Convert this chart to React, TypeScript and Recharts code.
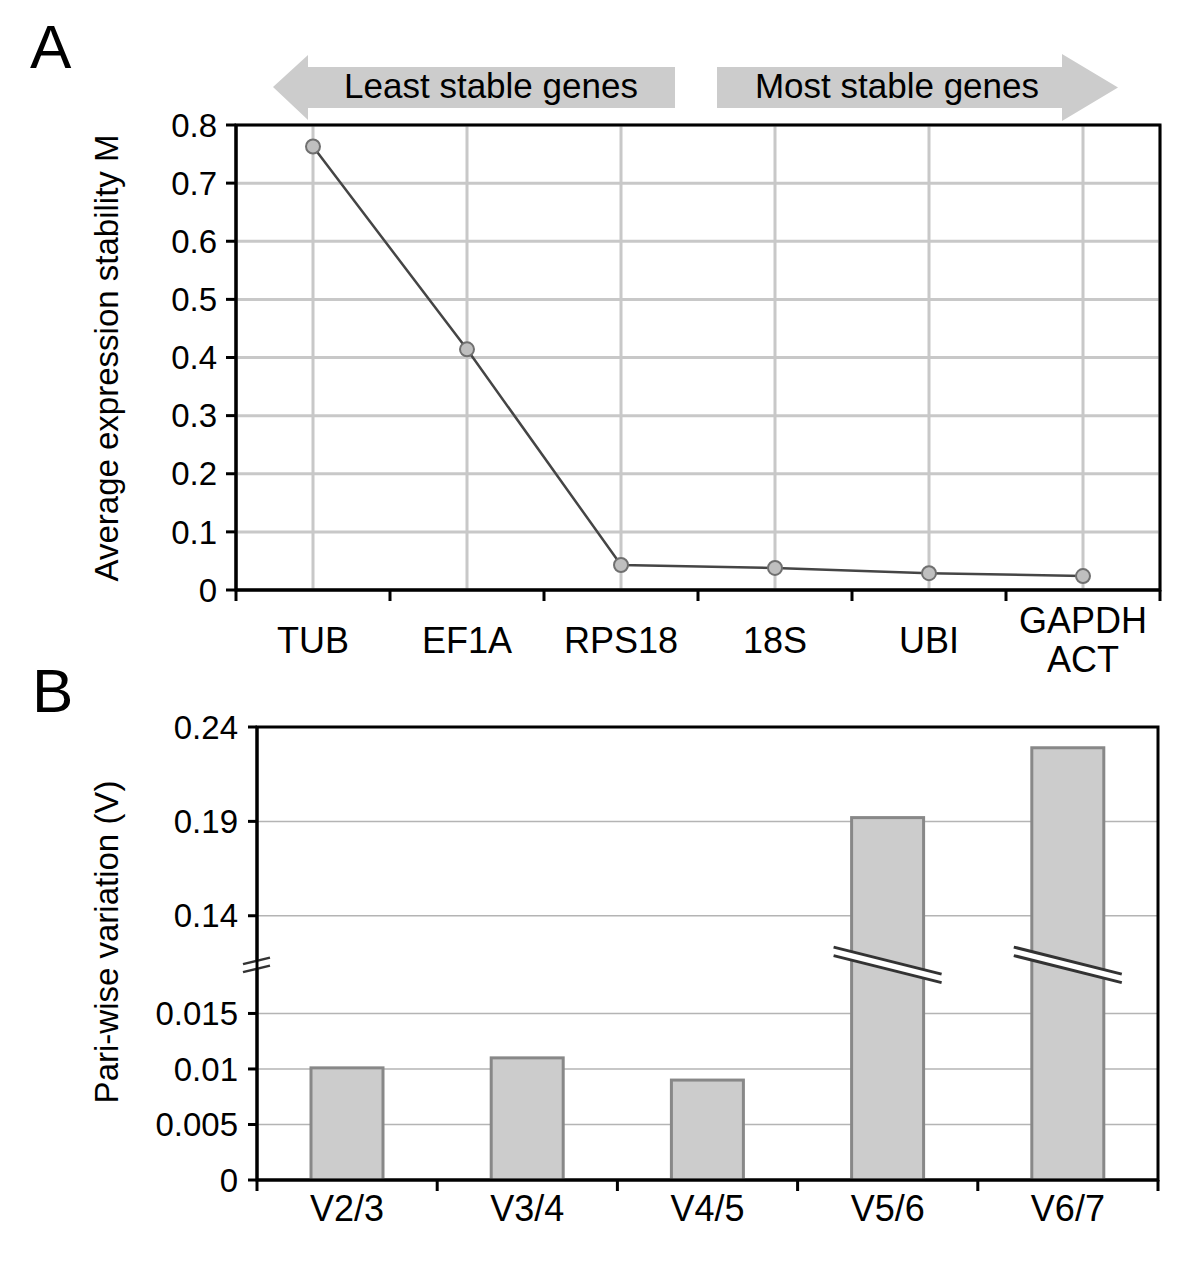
import React from "react";
import {
  LineChart,
  Line,
  BarChart,
  Bar,
  XAxis,
  YAxis,
  CartesianGrid,
  ReferenceArea,
  ReferenceLine,
} from "recharts";

const FONT = "'Liberation Sans', Arial, Helvetica, sans-serif";

// panel A: geNorm stability
const genes = ["TUB", "EF1A", "RPS18", "18S", "UBI", "GAPDH ACT"];
const stabilityM = [0.763, 0.414, 0.043, 0.038, 0.029, 0.024];
const stabilityTicks = [0, 0.1, 0.2, 0.3, 0.4, 0.5, 0.6, 0.7, 0.8];

// panel B: pairwise variation
const pairs = ["V2/3", "V3/4", "V4/5", "V5/6", "V6/7"];
const pairwiseV = [0.0101, 0.011, 0.009, 0.192, 0.229];
const lowTicks = [0, 0.005, 0.01, 0.015];
const highTicks = [0.14, 0.19, 0.24];

// broken axis: lower part 0..0.015, upper part 0.14..0.24
const LOW_MAX = 0.015;
const HIGH_MIN = 0.14;
const LOW_UNIT = 0.005;
const GAP = 1.76;
const HIGH_UNIT = 0.05 / 1.7;
const toAxis = (v: number) =>
  v <= LOW_MAX ? v / LOW_UNIT : LOW_MAX / LOW_UNIT + GAP + (v - HIGH_MIN) / HIGH_UNIT;
const BREAK_U = (toAxis(LOW_MAX) + toAxis(HIGH_MIN)) / 2;

const allTicksB = [...lowTicks, ...highTicks];

const dataA = genes.map((gene, i) => ({ gene, m: stabilityM[i] }));
const dataB = pairs.map((pair, i) => ({ pair, v: pairwiseV[i], axisV: toAxis(pairwiseV[i]) }));

// layout
const W = 1200;
const A_H = 700;
const A_LEFT = 236;
const A_RIGHT = 1160;
const A_TOP = 125;
const A_BOTTOM = 590;
const B_H = 571;
const B_TOP_OFF = 700;
const B_LEFT = 257;
const B_RIGHT = 1158;
const B_TOP = 727;
const B_BOTTOM = 1180;
const Y_AXIS_W = 90;

const tickStyle = { fill: "#000", fontSize: 33, fontFamily: FONT };

function GeneTick(props: any) {
  const { x, y, payload, index } = props;
  const bw = (A_RIGHT - A_LEFT) / genes.length;
  const lines = String(payload.value).split(" ");
  const first = lines.length > 1 ? 43 : 63;
  return (
    <g>
      <line x1={x - bw / 2} x2={x - bw / 2} y1={y} y2={y + 11} stroke="#000" strokeWidth={3} />
      {index === genes.length - 1 && (
        <line x1={x + bw / 2} x2={x + bw / 2} y1={y} y2={y + 11} stroke="#000" strokeWidth={3} />
      )}
      {lines.map((l, i) => (
        <text key={l} x={x} y={y + first + i * 39} textAnchor="middle" fontSize={36} fontFamily={FONT} fill="#000">
          {l}
        </text>
      ))}
    </g>
  );
}

function PairTick(props: any) {
  const { x, y, payload, index } = props;
  const bw = (B_RIGHT - B_LEFT) / pairs.length;
  return (
    <g>
      <line x1={x - bw / 2} x2={x - bw / 2} y1={y} y2={y + 11} stroke="#000" strokeWidth={3} />
      {index === pairs.length - 1 && (
        <line x1={x + bw / 2} x2={x + bw / 2} y1={y} y2={y + 11} stroke="#000" strokeWidth={3} />
      )}
      <text x={x} y={y + 41} textAnchor="middle" fontSize={36} fontFamily={FONT} fill="#000">
        {payload.value}
      </text>
    </g>
  );
}

function BrokenBar(props: any) {
  const { x, y, width, height, payload } = props;
  const rect = <rect x={x} y={y} width={width} height={height} fill="#cccccc" stroke="#888888" strokeWidth={3} />;
  if (payload.v <= LOW_MAX) return rect;
  const by = y + height - (height * BREAK_U) / payload.axisV;
  const cx = x + width / 2;
  const half = 54;
  const dy = 13.5;
  const y1 = by - 4;
  const y2 = by + 4.5;
  return (
    <g>
      {rect}
      <polygon
        points={`${cx - half},${y1 - dy} ${cx + half},${y1 + dy} ${cx + half},${y2 + dy} ${cx - half},${y2 - dy}`}
        fill="#fff"
      />
      <line x1={cx - half} y1={y1 - dy} x2={cx + half} y2={y1 + dy} stroke="#333" strokeWidth={3} />
      <line x1={cx - half} y1={y2 - dy} x2={cx + half} y2={y2 + dy} stroke="#333" strokeWidth={3} />
    </g>
  );
}

function AxisBreak(props: any) {
  const { x1, y1 } = props;
  const ya = y1 - 4;
  const yb = y1 + 4;
  return (
    <g>
      <polygon points={`${x1 - 14},${ya + 3.5} ${x1 + 13},${ya - 3} ${x1 + 13},${yb - 3} ${x1 - 14},${yb + 3.5}`} fill="#fff" />
      <line x1={x1 - 14} y1={ya + 3.5} x2={x1 + 13} y2={ya - 3} stroke="#333" strokeWidth={2.5} />
      <line x1={x1 - 14} y1={yb + 3.5} x2={x1 + 13} y2={yb - 3} stroke="#333" strokeWidth={2.5} />
    </g>
  );
}

const labelB = (u: number) => {
  let best = allTicksB[0];
  allTicksB.forEach(t => {
    if (Math.abs(toAxis(t) - u) < Math.abs(toAxis(best) - u)) best = t;
  });
  return String(best);
};

export default function App() {
  return (
    <div style={{ position: "absolute", left: 0, top: 0, width: W, height: 1271, background: "#fff" }}>
      <div style={{ position: "absolute", left: 0, top: 0 }}>
        <LineChart
          width={W}
          height={A_H}
          data={dataA}
          margin={{ top: A_TOP, right: W - A_RIGHT, left: A_LEFT - Y_AXIS_W, bottom: A_H - A_BOTTOM - 90 }}
        >
          <CartesianGrid stroke="#c8c8c8" strokeWidth={3} />
          <XAxis
            dataKey="gene"
            scale="band"
            interval={0}
            height={90}
            tick={<GeneTick />}
            tickLine={false}
            tickSize={0}
            tickMargin={0}
            axisLine={{ stroke: "#000", strokeWidth: 3 }}
          />
          <YAxis
            width={Y_AXIS_W}
            domain={[0, 0.8]}
            ticks={stabilityTicks}
            interval={0}
            tick={tickStyle}
            tickSize={10}
            tickMargin={9}
            tickLine={{ stroke: "#000", strokeWidth: 3 }}
            axisLine={{ stroke: "#000", strokeWidth: 3 }}
          />
          <ReferenceArea y1={0} y2={0.8} fill="none" stroke="#000" strokeWidth={3} fillOpacity={0} />
          <Line
            dataKey="m"
            stroke="#454545"
            strokeWidth={2.5}
            dot={{ r: 7, fill: "#bfbfbf", stroke: "#707070", strokeWidth: 2 }}
            isAnimationActive={false}
          />
        </LineChart>
      </div>

      <div style={{ position: "absolute", left: 0, top: B_TOP_OFF }}>
        <BarChart
          width={W}
          height={B_H}
          data={dataB}
          margin={{
            top: B_TOP - B_TOP_OFF,
            right: W - B_RIGHT,
            left: B_LEFT - Y_AXIS_W,
            bottom: B_H - (B_BOTTOM - B_TOP_OFF) - 60,
          }}
        >
          <CartesianGrid stroke="#b4b4b4" strokeWidth={1.5} vertical={false} />
          <XAxis
            dataKey="pair"
            interval={0}
            height={60}
            tick={<PairTick />}
            tickLine={false}
            tickSize={0}
            tickMargin={0}
            axisLine={{ stroke: "#000", strokeWidth: 3 }}
          />
          <YAxis
            width={Y_AXIS_W}
            domain={[0, toAxis(0.24)]}
            ticks={allTicksB.map(toAxis)}
            interval={0}
            tickFormatter={labelB}
            tick={tickStyle}
            tickSize={9}
            tickMargin={10}
            tickLine={{ stroke: "#000", strokeWidth: 3 }}
            axisLine={{ stroke: "#000", strokeWidth: 3 }}
          />
          <ReferenceArea y1={0} y2={toAxis(0.24)} fill="none" stroke="#000" strokeWidth={3} fillOpacity={0} />
          <Bar dataKey="axisV" barSize={72} shape={<BrokenBar />} isAnimationActive={false} />
          <ReferenceLine y={BREAK_U} stroke="none" shape={<AxisBreak />} />
        </BarChart>
      </div>

      <svg
        width={W}
        height={1271}
        style={{ position: "absolute", left: 0, top: 0, pointerEvents: "none" }}
        fontFamily={FONT}
      >
        <text x={30} y={68} fontSize={62}>A</text>
        <text x={32} y={712} fontSize={62}>B</text>
        <polygon points="273,87 308,55 308,67 675,67 675,108 308,108 308,120" fill="#cccccc" />
        <polygon points="717,67 1062,67 1062,54 1118,87.5 1062,121 1062,108 717,108" fill="#cccccc" />
        <text x={491} y={98} fontSize={35} textAnchor="middle">Least stable genes</text>
        <text x={897} y={98} fontSize={35} textAnchor="middle">Most stable genes</text>
        <text x={118} y={358} fontSize={33} textAnchor="middle" transform="rotate(-90 118 358)">
          Average expression stability M
        </text>
        <text x={118} y={942} fontSize={33} textAnchor="middle" transform="rotate(-90 118 942)">
          Pari-wise variation (V)
        </text>
      </svg>
    </div>
  );
}
